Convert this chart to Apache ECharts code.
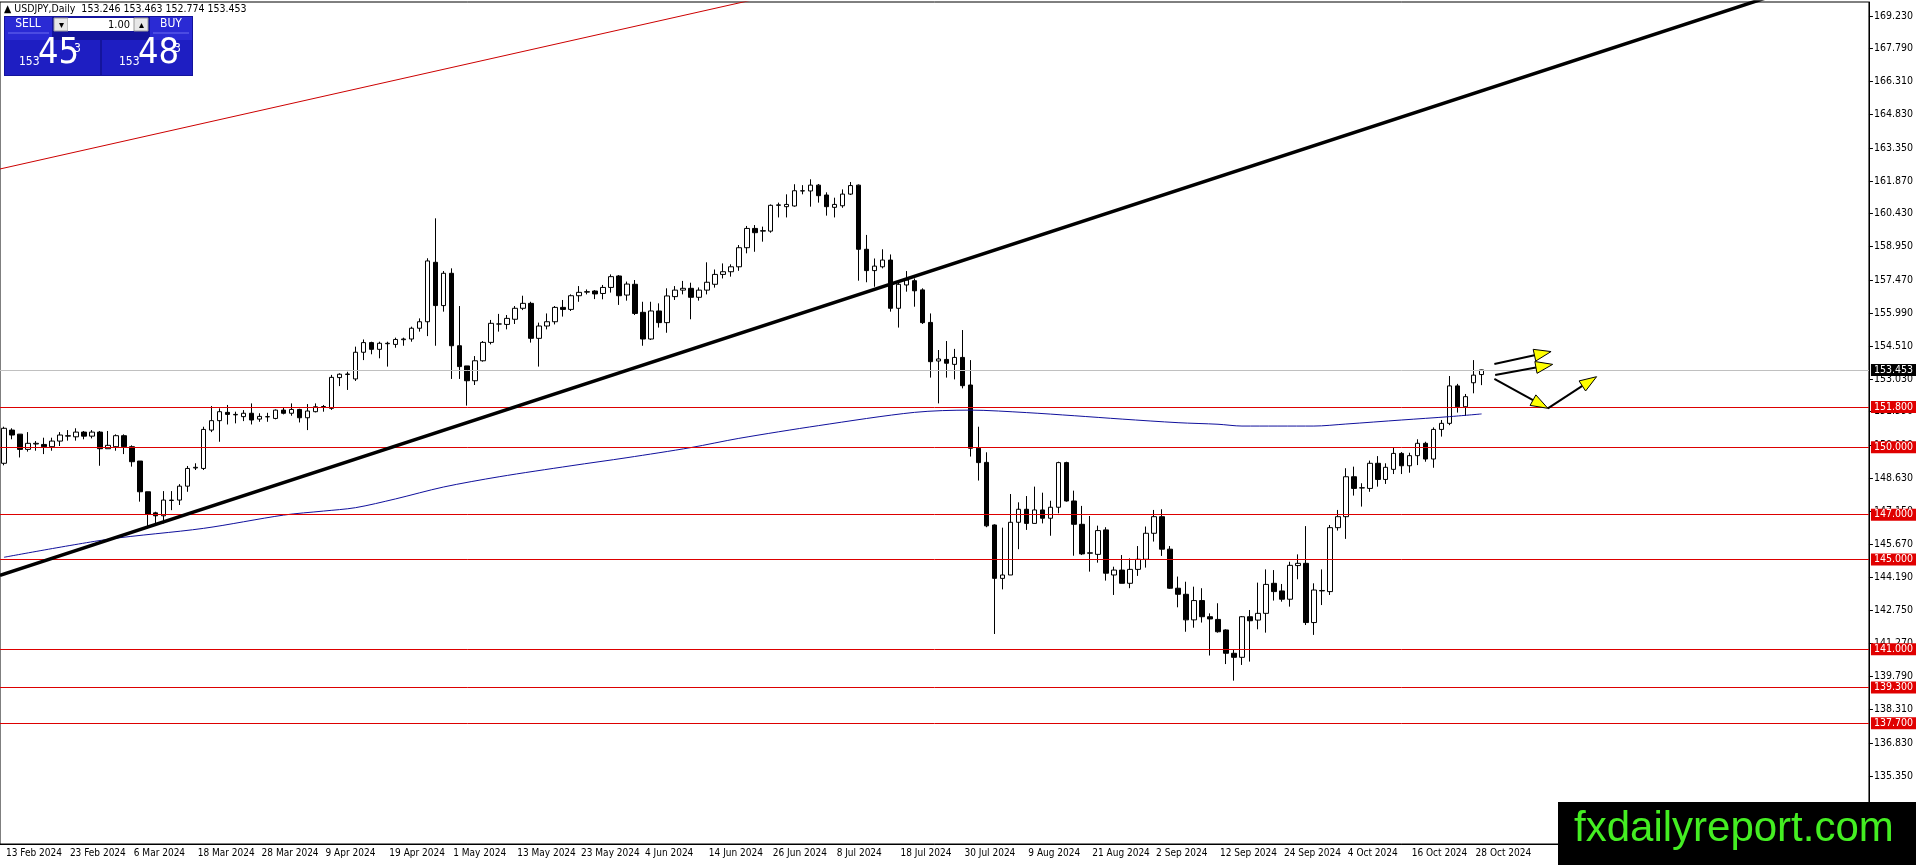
<!DOCTYPE html>
<html>
<head>
<meta charset="utf-8">
<title>USDJPY Daily</title>
<script src="https://cdn.jsdelivr.net/npm/echarts@6/dist/echarts.min.js"></script>
<style>
  html, body { margin: 0; padding: 0; background: #fff; }
  #chart { width: 1916px; height: 865px; }
</style>
</head>
<body>
<div id="chart"></div>
<script>
// daily bars 13 Feb 2024 .. 29 Oct 2024
const opens = [
  149.29,150.77,150.59,149.91,150.15,150.13,150.03,150.28,150.50,150.47,
  150.68,150.50,150.68,149.94,150.03,150.52,150.03,149.39,148.02,147.08,
  146.95,147.63,147.65,148.27,149.08,149.06,150.77,151.19,151.56,151.45,
  151.37,151.52,151.26,151.36,151.29,151.66,151.52,151.69,151.32,151.59,
  151.80,151.74,153.11,153.25,153.05,154.24,154.67,154.37,154.62,154.59,
  154.80,154.83,155.31,155.60,158.25,156.32,157.76,154.53,153.63,152.97,
  153.86,154.68,155.50,155.48,155.71,156.20,156.42,154.86,155.41,155.60,
  156.24,156.15,156.76,156.92,156.97,156.86,157.13,157.64,156.79,157.27,
  156.02,154.83,156.08,155.56,156.72,157.01,157.09,156.69,157.01,157.27,
  157.71,157.83,158.05,158.90,159.76,159.64,159.64,160.79,160.73,160.76,
  161.43,161.43,161.69,161.25,160.70,160.77,161.29,161.69,158.83,157.88,
  158.05,158.35,156.20,157.24,157.43,157.02,155.57,153.85,153.92,153.70,
  154.01,152.78,149.96,149.33,146.54,144.16,144.31,146.66,147.24,146.61,
  147.21,146.84,147.33,149.32,147.61,146.57,145.28,145.23,146.32,144.31,
  144.53,143.94,144.56,145.01,146.17,146.91,145.46,143.72,143.45,142.31,
  143.17,142.45,142.33,141.86,140.82,140.64,142.45,142.30,142.60,143.94,
  143.60,143.23,144.73,144.83,142.19,143.60,143.57,146.42,146.91,148.69,
  148.19,148.17,149.29,148.57,149.02,149.73,149.18,149.63,150.18,149.48,
  150.80,151.07,152.74,151.81,152.88,153.246
];
const highs = [
  150.92,150.85,150.59,150.68,150.28,150.43,150.43,150.68,150.77,150.85,
  150.73,150.77,150.73,150.73,150.58,150.58,150.09,149.39,148.02,147.13,
  148.05,148.05,148.36,149.17,149.29,150.92,151.84,151.74,151.89,151.59,
  151.66,151.96,151.52,151.54,151.69,151.77,151.96,151.72,151.93,151.96,
  151.89,153.23,153.30,153.37,154.49,154.81,154.71,154.71,154.71,154.89,
  154.89,155.38,155.75,158.43,160.21,157.86,157.98,156.30,153.63,154.07,
  154.74,155.68,155.95,155.90,156.30,156.76,156.49,155.56,155.97,156.30,
  156.57,156.82,157.19,157.04,157.01,157.24,157.71,157.68,157.39,157.46,
  156.49,156.49,156.42,157.09,157.19,157.42,157.34,157.13,158.25,157.93,
  158.20,158.16,159.02,159.87,159.91,159.84,160.83,160.91,161.28,161.73,
  161.69,161.95,161.74,161.37,161.13,161.50,161.83,161.72,159.47,158.42,
  158.83,158.60,157.39,157.86,157.53,157.09,155.97,154.34,154.74,154.39,
  155.23,153.89,150.92,149.78,146.57,146.42,147.92,147.55,147.83,148.25,
  147.98,147.62,149.36,149.36,148.07,147.39,146.94,146.51,146.44,144.68,
  145.20,145.05,145.60,146.47,147.21,147.24,145.60,144.24,144.01,143.79,
  143.72,142.60,143.05,141.89,140.97,142.48,142.75,143.97,144.56,144.53,
  143.91,144.90,145.23,146.49,143.94,144.56,146.54,147.21,149.07,149.14,
  148.40,149.41,149.61,149.29,149.99,149.79,149.76,150.36,150.25,150.89,
  151.22,153.18,152.83,152.38,153.89,153.463
];
const lows = [
  149.20,150.36,149.55,149.81,149.85,149.70,149.85,150.06,150.30,150.30,
  150.36,150.40,149.18,149.94,149.85,149.70,149.14,147.58,146.39,146.52,
  146.61,147.20,147.43,148.02,148.99,148.99,150.68,150.25,151.02,151.07,
  151.17,151.02,151.14,151.14,151.25,151.47,151.41,151.11,150.77,151.56,
  151.59,151.67,152.73,152.56,152.96,153.89,154.15,153.97,153.60,154.44,
  154.53,154.71,155.16,154.96,154.53,156.05,153.05,153.05,151.86,152.78,
  153.82,154.59,155.16,155.26,155.50,156.12,154.67,153.60,155.26,155.48,
  155.83,156.08,156.49,156.82,156.61,156.60,156.90,156.35,156.54,155.90,
  154.53,154.79,155.34,155.11,156.57,156.82,155.71,156.54,156.82,157.12,
  157.53,157.61,157.87,158.65,158.72,159.17,159.57,160.25,160.25,160.73,
  161.28,160.73,160.91,160.33,160.25,160.68,161.25,157.43,157.36,157.16,
  157.98,156.05,155.34,156.94,156.27,155.50,153.11,151.96,153.11,153.03,
  152.63,149.59,148.52,146.44,141.68,143.67,144.31,145.46,146.32,146.61,
  146.61,146.06,147.06,147.58,145.17,145.20,144.46,144.86,144.06,143.42,
  143.94,143.72,144.27,144.64,145.80,145.16,143.69,142.87,141.78,141.96,
  142.19,140.72,141.74,140.34,139.60,140.30,140.45,141.89,141.74,143.17,
  143.12,142.90,144.12,142.08,141.64,142.97,143.42,146.29,145.92,147.85,
  147.36,148.02,148.25,148.37,148.81,148.81,148.87,149.21,149.36,149.09,
  150.48,150.99,151.55,151.40,152.41,152.774
];
const closes = [
  150.85,150.55,149.91,150.18,150.18,150.03,150.28,150.55,150.52,150.68,
  150.50,150.68,149.94,150.09,150.52,150.03,149.36,148.02,147.01,146.95,
  147.65,147.65,148.27,149.06,149.11,150.80,151.19,151.59,151.47,151.47,
  151.52,151.22,151.38,151.37,151.66,151.52,151.69,151.32,151.62,151.81,
  151.82,153.12,153.26,153.27,154.24,154.67,154.37,154.64,154.64,154.81,
  154.83,155.31,155.60,158.31,156.32,157.76,154.53,153.60,152.97,153.86,
  154.68,155.53,155.50,155.75,156.20,156.42,154.86,155.41,155.60,156.24,
  156.15,156.76,156.91,156.94,156.84,157.13,157.61,156.76,157.28,155.97,
  154.83,156.08,155.56,156.75,157.01,157.09,156.69,157.01,157.36,157.71,
  157.83,158.05,158.90,159.76,159.57,159.66,160.79,160.81,160.83,161.44,
  161.44,161.69,161.22,160.73,160.83,161.29,161.67,158.83,157.88,158.08,
  158.35,156.20,157.27,157.46,156.98,155.56,153.82,153.94,153.75,154.01,
  152.75,149.96,149.32,146.50,144.16,144.31,146.66,147.24,146.61,147.21,
  146.84,147.33,149.32,147.61,146.57,145.25,145.30,146.29,144.39,144.53,
  143.94,144.56,145.01,146.17,146.91,145.46,143.72,143.45,142.31,143.17,
  142.45,142.35,141.78,140.82,140.64,142.45,142.27,142.60,143.89,143.57,
  143.23,144.74,144.83,142.19,143.64,143.62,146.42,146.91,148.69,148.17,
  148.20,149.29,148.57,149.11,149.73,149.18,149.63,150.18,149.48,150.80,
  151.07,152.74,151.81,152.26,153.22,153.453
];

// date labels, MT4 puts one every 8 bars
const dateLabels = [
  '13 Feb 2024','23 Feb 2024','6 Mar 2024','18 Mar 2024','28 Mar 2024','9 Apr 2024',
  '19 Apr 2024','1 May 2024','13 May 2024','23 May 2024','4 Jun 2024','14 Jun 2024',
  '26 Jun 2024','8 Jul 2024','18 Jul 2024','30 Jul 2024','9 Aug 2024','21 Aug 2024',
  '2 Sep 2024','12 Sep 2024','24 Sep 2024','4 Oct 2024','16 Oct 2024','28 Oct 2024'
];
const labelStep = 8;
const totalSlots = 234; // bars that fit the window, right side empty

const priceTicks = [
  169.23,167.79,166.31,164.83,163.35,161.87,160.43,158.95,157.47,155.99,154.51,153.03,
  151.59,150.11,148.63,147.15,145.67,144.19,142.75,141.27,139.79,138.31,136.83,135.35
];
const priceMin = 132.318;
const priceMax = 169.854;

// horizontal levels and current bid
const levels = [151.8, 150.0, 147.0, 145.0, 141.0, 139.3, 137.7];
const lastPrice = 153.453;
const header = ['USDJPY,Daily', '153.246', '153.463', '152.774', '153.453'];

// moving average at some bars
const maBars = [0, 13, 25, 35, 40, 44, 49, 55, 62, 71, 78, 86, 92, 102, 114, 121, 128, 134, 140, 147, 152, 155, 164, 168, 175, 181, 185];
const maVals = [145.10, 145.90, 146.39, 146.98, 147.16, 147.31, 147.70, 148.23, 148.69, 149.18, 149.54, 149.99, 150.40, 150.97, 151.56, 151.66, 151.55, 151.41, 151.26, 151.10, 151.03, 150.95, 150.95, 151.04, 151.22, 151.37, 151.49];

// trend lines as [bar, price] anchors
const blackTrend = [[-0.5, 144.29], [225, 170.55]];
const redTrend = [[-0.5, 162.41], [95, 170.05]];

// yellow arrows: [fromBar, fromPrice, toBar, toPrice]
const arrows = [
  [186.6, 153.72, 193.7, 154.27],
  [186.7, 153.23, 193.9, 153.70],
  [186.6, 153.05, 193.3, 151.74],
  [193.3, 151.74, 199.4, 153.15]
];

const font = "'Liberation Sans Narrow', 'DejaVu Sans Condensed', 'Liberation Sans', sans-serif";

const slots = Array.from({ length: totalSlots }, (_, i) => String(i));
const candles = opens.map((o, i) => [o, closes[i], lows[i], highs[i]]);
const showDate = (i) => i % labelStep === 0 && i / labelStep < dateLabels.length;

const levelLines = levels.map(v => ({ yAxis: v, name: v.toFixed(3) }));
levelLines.push({
  yAxis: lastPrice,
  name: lastPrice.toFixed(3),
  lineStyle: { color: '#c0c0c0' },
  label: { backgroundColor: '#000' }
});

const chart = echarts.init(document.getElementById('chart'));
chart.setOption({
  animation: false,
  backgroundColor: '#fff',
  grid: { left: 0, right: 46, top: 2, bottom: 21, show: true, borderColor: '#000', borderWidth: 1 },
  xAxis: [{
    type: 'category',
    data: slots,
    boundaryGap: true,
    axisLine: { onZero: false, lineStyle: { color: '#000' } },
    axisTick: { interval: showDate, length: 4, alignWithLabel: true, lineStyle: { color: '#000' } },
    axisLabel: {
      interval: showDate,
      formatter: (v, i) => dateLabels[i / labelStep] || '',
      align: 'left', margin: 4, padding: [0, 0, 0, 2],
      color: '#000', fontSize: 10, fontFamily: font
    },
    splitLine: { show: false }
  }, {
    type: 'value', min: -0.5, max: totalSlots - 0.5, show: false
  }],
  yAxis: {
    type: 'value',
    position: 'right',
    min: priceMin, max: priceMax,
    splitLine: { show: false },
    axisLine: { show: true, onZero: false, lineStyle: { color: '#000' } },
    axisTick: { show: true, length: 4, customValues: priceTicks, lineStyle: { color: '#000' } },
    axisLabel: {
      customValues: priceTicks,
      formatter: v => v.toFixed(3),
      color: '#000', fontSize: 10.5, fontFamily: font, margin: 5
    }
  },
  series: [{
    type: 'candlestick',
    data: candles,
    barWidth: 5,
    itemStyle: { color: '#fff', color0: '#000', borderColor: '#000', borderColor0: '#000', borderWidth: 1 },
    markLine: {
      symbol: 'none',
      silent: true,
      lineStyle: { color: '#dd0000', width: 1, type: 'solid' },
      label: {
        position: 'end', distance: 2,
        color: '#fff', backgroundColor: '#e00000',
        padding: [1, 3, 0, 3], fontSize: 10.5, fontFamily: font,
        formatter: p => p.name
      },
      data: levelLines
    }
  }, {
    type: 'line',
    xAxisIndex: 1,
    data: maBars.map((b, i) => [b, maVals[i]]),
    smooth: 0.3,
    symbol: 'none',
    lineStyle: { color: '#10109c', width: 1 }
  }, {
    type: 'line',
    xAxisIndex: 1,
    data: blackTrend,
    symbol: 'none',
    z: 5,
    lineStyle: { color: '#000', width: 3.5 }
  }, {
    type: 'line',
    xAxisIndex: 1,
    data: redTrend,
    symbol: 'none',
    lineStyle: { color: '#cc0000', width: 1 }
  }, {
    type: 'custom',
    xAxisIndex: 1,
    data: arrows,
    z: 10,
    renderItem: (params, api) => {
      const a = api.coord([api.value(0), api.value(1)]);
      const b = api.coord([api.value(2), api.value(3)]);
      const dx = b[0] - a[0], dy = b[1] - a[1];
      const len = Math.hypot(dx, dy);
      const ux = dx / len, uy = dy / len;
      const hl = 17, hw = 6;
      const base = [b[0] - ux * hl, b[1] - uy * hl];
      return {
        type: 'group',
        children: [{
          type: 'line',
          shape: { x1: a[0], y1: a[1], x2: base[0], y2: base[1] },
          style: { stroke: '#000', lineWidth: 2 }
        }, {
          type: 'polygon',
          shape: { points: [b, [base[0] - uy * hw, base[1] + ux * hw], [base[0] + uy * hw, base[1] - ux * hw]] },
          style: { fill: '#ffff00', stroke: '#000', lineWidth: 1 }
        }]
      };
    }
  }],
  graphic: [
    // symbol header
    { type: 'text', left: 4, top: 4, z: 100,
      style: { text: '\u25B2 ' + header[0] + '  ' + header.slice(1).join(' '), fill: '#000', font: '10.5px ' + font } },
    // one-click trading panel
    { type: 'group', left: 4, top: 16, z: 100, children: [
      { type: 'rect', shape: { x: 0, y: 0, width: 189, height: 60 }, style: { fill: '#14149c' } },
      { type: 'rect', shape: { x: 1, y: 1, width: 47, height: 23 }, style: { fill: '#2a2ad4' } },
      { type: 'line', shape: { x1: 4, y1: 17, x2: 45, y2: 17 }, style: { stroke: '#6c6cf0', lineWidth: 1 } },
      { type: 'text', style: { x: 24, y: 8, text: 'SELL', fill: '#fff', font: '12px ' + font, align: 'center', verticalAlign: 'middle' } },
      { type: 'rect', shape: { x: 50, y: 2, width: 14, height: 13 }, style: { fill: '#e8e8e8', stroke: '#9a9a9a' } },
      { type: 'text', style: { x: 57, y: 9, text: '\u25BE', fill: '#000', font: '10px sans-serif', align: 'center', verticalAlign: 'middle' } },
      { type: 'rect', shape: { x: 64, y: 2, width: 66, height: 13 }, style: { fill: '#fff' } },
      { type: 'text', style: { x: 126, y: 9, text: '1.00', fill: '#000', font: '11px ' + font, align: 'right', verticalAlign: 'middle' } },
      { type: 'rect', shape: { x: 130, y: 2, width: 14, height: 13 }, style: { fill: '#e8e8e8', stroke: '#9a9a9a' } },
      { type: 'text', style: { x: 137, y: 9, text: '\u25B4', fill: '#000', font: '10px sans-serif', align: 'center', verticalAlign: 'middle' } },
      { type: 'rect', shape: { x: 146, y: 1, width: 42, height: 23 }, style: { fill: '#2a2ad4' } },
      { type: 'line', shape: { x1: 149, y1: 17, x2: 185, y2: 17 }, style: { stroke: '#6c6cf0', lineWidth: 1 } },
      { type: 'text', style: { x: 167, y: 8, text: 'BUY', fill: '#fff', font: '12px ' + font, align: 'center', verticalAlign: 'middle' } },
      { type: 'rect', shape: { x: 1, y: 24, width: 95, height: 35 }, style: { fill: '#1e1ec2' } },
      { type: 'rect', shape: { x: 98, y: 24, width: 90, height: 35 }, style: { fill: '#1e1ec2' } },
      { type: 'text', style: { x: 15, y: 52, text: '153', fill: '#fff', font: '12px ' + font, verticalAlign: 'bottom' } },
      { type: 'text', style: { x: 34, y: 56, text: '45', fill: '#fff', font: '36px ' + font, verticalAlign: 'bottom' } },
      { type: 'text', style: { x: 70, y: 27, text: '3', fill: '#fff', font: '12px ' + font } },
      { type: 'text', style: { x: 115, y: 52, text: '153', fill: '#fff', font: '12px ' + font, verticalAlign: 'bottom' } },
      { type: 'text', style: { x: 134, y: 56, text: '48', fill: '#fff', font: '36px ' + font, verticalAlign: 'bottom' } },
      { type: 'text', style: { x: 170, y: 27, text: '3', fill: '#fff', font: '12px ' + font } }
    ] },
    // watermark
    { type: 'rect', left: 1558, top: 802, z: 100, shape: { width: 358, height: 63 }, style: { fill: '#000' } },
    { type: 'text', left: 1574, top: 808, z: 101,
      style: { text: 'fxdailyreport.com', fill: '#44ee22', font: '42px "Liberation Sans", Arial, sans-serif' } }
  ]
});
</script>
</body>
</html>
